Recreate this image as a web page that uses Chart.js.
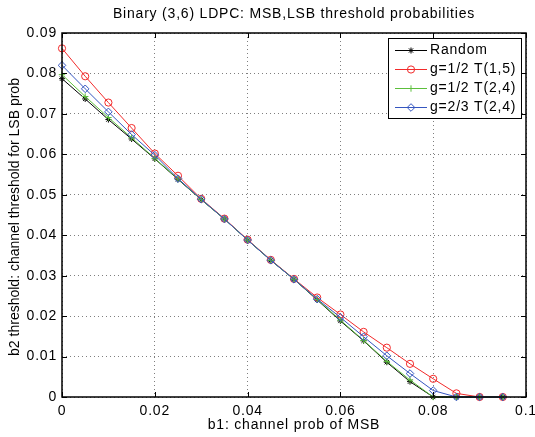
<!DOCTYPE html>
<html>
<head>
<meta charset="utf-8">
<script src="https://cdn.jsdelivr.net/npm/chart.js@4.4.1/dist/chart.umd.min.js"></script>
<style>
  html, body { margin: 0; padding: 0; background: #fff; }
  #wrap { width: 535px; height: 437px; }
</style>
</head>
<body>
<div id="wrap"><canvas id="chart" width="535" height="437"></canvas></div>
<script>
const b1 = [0, 0.005, 0.01, 0.015, 0.02, 0.025, 0.03, 0.035, 0.04, 0.045,
            0.05, 0.055, 0.06, 0.065, 0.07, 0.075, 0.08, 0.085, 0.09, 0.095]

const random = [0.0787, 0.0737, 0.0686, 0.0638, 0.0589, 0.0538, 0.0488, 0.0440, 0.0388, 0.0338,
                0.0291, 0.0240, 0.0188, 0.0139, 0.0086, 0.0038, 0, 0, 0, 0]
const g12T15 = [0.0862, 0.0793, 0.0728, 0.0665, 0.0602, 0.0547, 0.0490, 0.0441, 0.0389, 0.0339,
                0.0292, 0.0246, 0.0204, 0.0161, 0.0122, 0.0082, 0.0045, 0.0009, 0, 0]
const g12T24 = [0.0797, 0.0743, 0.0691, 0.0641, 0.0590, 0.0539, 0.0488, 0.0440, 0.0388, 0.0338,
                0.0291, 0.0241, 0.0190, 0.0140, 0.0088, 0.0042, 0, 0, 0, 0]
const g23T24 = [0.0820, 0.0762, 0.0705, 0.0649, 0.0598, 0.0540, 0.0489, 0.0440, 0.0388, 0.0338,
                0.0291, 0.0242, 0.0197, 0.0149, 0.0102, 0.0058, 0.0016, 0, 0, 0]

const seriesNames = ['Random', 'g=1/2 T(1,5)', 'g=1/2 T(2,4)', 'g=2/3 T(2,4)']
const xTicks = [0, 0.02, 0.04, 0.06, 0.08, 0.1]
const yTicks = [0, 0.01, 0.02, 0.03, 0.04, 0.05, 0.06, 0.07, 0.08, 0.09]
const yTitle = 'b2 threshold: channel threshold for LSB prob'

const FONT = "'Liberation Sans', Arial, Helvetica, sans-serif"
const SPACING = '0.8px'   // the source image is a bit wider than tall, text runs wide

const toPoints = (ys) => ys.map((y, i) => ({ x: b1[i], y: y }))

const makeSet = (label, ys, color, style, radius, order) => ({
    label: label,
    data: toPoints(ys),
    borderColor: color,
    backgroundColor: 'rgba(0,0,0,0)',
    borderWidth: 1,
    pointStyle: style,
    pointRadius: radius,
    pointBorderColor: color,
    pointBackgroundColor: 'rgba(0,0,0,0)',
    pointBorderWidth: 1,
    tension: 0,
    clip: false,
    order: order
})

// frame + inward ticks, matlab style
const framePlugin = {
    id: 'frame',
    beforeUpdate(chart) { chart.ctx.letterSpacing = SPACING },
    beforeDraw(chart) { chart.ctx.letterSpacing = SPACING },
    afterDatasetsDraw(chart) {
        const { ctx, chartArea: a, scales } = chart
        ctx.save()
        ctx.strokeStyle = '#000'
        ctx.lineWidth = 1
        ctx.beginPath()
        xTicks.forEach(v => {
            const px = Math.round(scales.x.getPixelForValue(v)) + 0.5
            ctx.moveTo(px, a.bottom); ctx.lineTo(px, a.bottom - 5)
            ctx.moveTo(px, a.top); ctx.lineTo(px, a.top + 5)
        })
        yTicks.forEach(v => {
            const py = Math.round(scales.y.getPixelForValue(v)) + 0.5
            ctx.moveTo(a.left, py); ctx.lineTo(a.left + 5, py)
            ctx.moveTo(a.right, py); ctx.lineTo(a.right - 5, py)
        })
        ctx.stroke()
        ctx.lineWidth = 1.5
        ctx.strokeRect(a.left, a.top, a.right - a.left, a.bottom - a.top)
        ctx.restore()
    },
    afterDraw(chart) {
        const { ctx, chartArea: a } = chart
        const sets = chart.data.datasets

        // y axis title, vertical text is not stretched
        ctx.save()
        ctx.letterSpacing = '0px'
        ctx.font = '14px ' + FONT
        ctx.fillStyle = '#000'
        ctx.textAlign = 'center'
        ctx.textBaseline = 'middle'
        ctx.translate(15, (a.top + a.bottom) / 2 + 2)
        ctx.rotate(-Math.PI / 2)
        ctx.fillText(yTitle, 0, 0)
        ctx.restore()

        // legend
        const boxW = 133, rowH = 19.3
        const boxH = 80
        const right = a.right - 5, top = a.top + 5
        const left = right - boxW
        ctx.save()
        ctx.fillStyle = '#fff'
        ctx.fillRect(left, top, boxW, boxH)
        ctx.strokeStyle = '#000'
        ctx.lineWidth = 1
        ctx.strokeRect(Math.round(left) + 0.5, Math.round(top) + 0.5, boxW, boxH)
        ctx.font = '14px ' + FONT
        ctx.textBaseline = 'middle'
        sets.forEach((ds, i) => {
            const y = Math.round(top + 11.5 + i * rowH) + 0.5
            ctx.strokeStyle = ds.borderColor
            ctx.fillStyle = 'rgba(0,0,0,0)'
            ctx.lineWidth = 1
            ctx.beginPath()
            ctx.moveTo(left + 7, y)
            ctx.lineTo(left + 39, y)
            ctx.stroke()
            Chart.helpers.drawPoint(ctx, {
                pointStyle: ds.pointStyle, radius: ds.pointRadius,
                rotation: 0, borderWidth: 1
            }, left + 23, y)
            ctx.fillStyle = '#000'
            ctx.fillText(ds.label, left + 42, y)
        })
        ctx.restore()
    }
}

const ctx = document.getElementById('chart').getContext('2d')

const myChart = new Chart(ctx, {
    type: 'line',
    data: {
        datasets: [
            makeSet(seriesNames[0], random, '#000000', 'star', 3, 4),
            makeSet(seriesNames[1], g12T15, '#f22a2a', 'circle', 3.6, 3),
            makeSet(seriesNames[2], g12T24, '#5cbf3c', 'cross', 3.2, 2),
            makeSet(seriesNames[3], g23T24, '#3556c0', 'rectRot', 3.8, 1)
        ]
    },
    options: {
        responsive: false,
        animation: false,
        events: [],
        layout: { padding: { left: 0, right: 9, top: 0, bottom: 0 } },
        plugins: {
            legend: { display: false },
            tooltip: { enabled: false },
            title: {
                display: true,
                fullSize: false,
                text: 'Binary (3,6) LDPC: MSB,LSB threshold probabilities',
                color: '#000',
                font: { family: FONT, size: 14, weight: 'normal' },
                padding: { top: 6, bottom: 10.2 }
            }
        },
        scales: {
            x: {
                type: 'linear',
                min: 0,
                max: 0.1,
                afterBuildTicks: (s) => { s.ticks = xTicks.map(v => ({ value: v })) },
                afterFit: (s) => { s.height = 40; s.paddingLeft = 0; s.paddingRight = 0 },
                ticks: {
                    color: '#000',
                    padding: 6,
                    maxRotation: 0,
                    autoSkip: false,
                    font: { family: FONT, size: 14 },
                    callback: (v) => String(+v.toFixed(3))
                },
                grid: { color: 'rgba(0,0,0,0.5)', drawTicks: false, lineWidth: 1 },
                border: { display: false, dash: [1, 3] },
                title: {
                    display: true,
                    text: 'b1: channel prob of MSB',
                    color: '#000',
                    font: { family: FONT, size: 14 },
                    padding: { top: 0, bottom: 3 }
                }
            },
            y: {
                type: 'linear',
                min: 0,
                max: 0.09,
                afterBuildTicks: (s) => { s.ticks = yTicks.map(v => ({ value: v })) },
                afterFit: (s) => { s.width = 62; s.paddingTop = 0; s.paddingBottom = 0 },
                ticks: {
                    color: '#000',
                    padding: 5,
                    autoSkip: false,
                    font: { family: FONT, size: 14 },
                    callback: (v) => String(+v.toFixed(3))
                },
                grid: { color: 'rgba(0,0,0,0.5)', drawTicks: false, lineWidth: 1 },
                border: { display: false, dash: [1, 3] },
                title: { display: false }
            }
        }
    },
    plugins: [framePlugin]
})
</script>
</body>
</html>
